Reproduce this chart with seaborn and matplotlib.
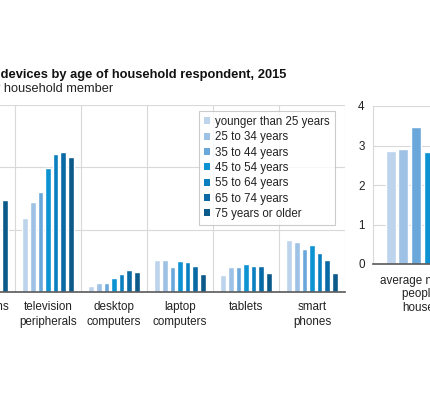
import matplotlib
matplotlib.use("Agg")
import matplotlib.pyplot as plt
import seaborn as sns
import pandas as pd
from matplotlib.patches import Patch

# categories and age groups
categories = ["televisions", "television\nperipherals", "desktop\ncomputers",
              "laptop\ncomputers", "tablets", "smart\nphones"]
age_groups = ["younger than 25 years", "25 to 34 years", "35 to 44 years",
              "45 to 54 years", "55 to 64 years", "65 to 74 years",
              "75 years or older"]

# devices per household member, one list per device type (by age group)
televisions = [0.95, 0.90, 0.80, 0.95, 1.20, 1.40, 1.47]
tv_peripherals = [1.18, 1.45, 1.61, 1.99, 2.21, 2.24, 2.17]
desktops = [0.10, 0.14, 0.14, 0.23, 0.29, 0.35, 0.32]
laptops = [0.52, 0.51, 0.40, 0.50, 0.48, 0.42, 0.29]
tablets = [0.28, 0.40, 0.40, 0.45, 0.41, 0.41, 0.31]
smartphones = [0.83, 0.80, 0.69, 0.75, 0.63, 0.52, 0.30]

# average number of people per household
household_size = [2.87, 2.90, 3.48, 2.83, 2.20, 1.85, 1.60]
household_label = "average number of\npeople per\nhousehold"

colors = ["#bdd4ec", "#9ec2e6", "#6aa7da", "#0d92d2", "#0a7fc0", "#0a6aa5", "#0b5a8a"]

# build long tables
rows = []
for cat, vals in zip(categories, [televisions, tv_peripherals, desktops,
                                  laptops, tablets, smartphones]):
    for age, v in zip(age_groups, vals):
        rows.append({"device": cat, "age": age, "value": v})
devices_df = pd.DataFrame(rows)

hh_df = pd.DataFrame({"device": [household_label] * len(age_groups),
                      "age": age_groups, "value": household_size})

sns.set_style("white")
plt.rcParams["font.family"] = ["Liberation Sans", "DejaVu Sans"]

W, H = 430, 400
fig = plt.figure(figsize=(4.3, 4.0), dpi=100)

grid_col = "#d9d9d9"
axis_col = "#595959"
text_col = "#222222"
lab_size = 8.4

# left panel: devices (its left part lies outside the cropped view)
cat_px = 66
right_px = 345
left_px = right_px - cat_px * len(categories)
ax1 = fig.add_axes([left_px / W, 1 - 292 / H, (right_px - left_px) / W, (292 - 105) / H])
sns.barplot(data=devices_df, x="device", y="value", hue="age",
            order=categories, hue_order=age_groups, palette=colors,
            width=0.8, gap=0.22, ax=ax1, legend=False, saturation=1)
ax1.set_ylim(0, 3)
ax1.set_yticks([0, 1, 2, 3])
ax1.set_xticks(range(len(categories)))
ax1.set_xticks([i + 0.5 for i in range(-1, len(categories))], minor=True)
ax1.set_xlim(-0.5, len(categories) - 0.5)
ax1.grid(axis="y", color=grid_col, linewidth=0.8)
ax1.grid(axis="x", which="minor", color=grid_col, linewidth=0.8)
ax1.grid(axis="x", which="major", visible=False)
ax1.set_axisbelow(True)
ax1.tick_params(axis="both", which="both", length=0, labelsize=lab_size,
                labelcolor=text_col)
ax1.tick_params(axis="x", pad=6.5)
for t in ax1.get_xticklabels():
    t.set_linespacing(1.3)
ax1.set_xlabel("")
ax1.set_ylabel("")
for s in ["left", "right", "top"]:
    ax1.spines[s].set_visible(False)
ax1.spines["bottom"].set_color(axis_col)
ax1.spines["bottom"].set_linewidth(1.2)

handles = [Patch(facecolor=c, edgecolor="none", label=a)
           for c, a in zip(colors, age_groups)]
leg = ax1.legend(handles=handles, loc="upper left",
                 bbox_to_anchor=(199 / W, 1 - 111 / H),
                 bbox_transform=fig.transFigure, frameon=True, fancybox=False,
                 fontsize=8.3, handlelength=0.55, handleheight=0.55,
                 handletextpad=0.45, labelspacing=0.29, borderpad=0.42,
                 borderaxespad=0, labelcolor=text_col)
leg.get_frame().set_edgecolor("#bfbfbf")
leg.get_frame().set_linewidth(0.8)

# right panel: household size
ax2 = fig.add_axes([373 / W, 1 - 264 / H, 112 / W, (264 - 106) / H])
sns.barplot(data=hh_df, x="device", y="value", hue="age",
            hue_order=age_groups, palette=colors, width=0.8, gap=0.23,
            ax=ax2, legend=False, saturation=1)
ax2.set_ylim(0, 4)
ax2.set_yticks([0, 1, 2, 3, 4])
ax2.set_xlim(-0.5, 0.5)
ax2.grid(axis="y", color=grid_col, linewidth=0.8)
ax2.set_axisbelow(True)
ax2.tick_params(axis="both", length=0, labelsize=lab_size, labelcolor=text_col)
ax2.tick_params(axis="y", pad=6)
ax2.tick_params(axis="x", pad=8)
for t in ax2.get_xticklabels():
    t.set_linespacing(1.15)
ax2.set_xlabel("")
ax2.set_ylabel("")
for s in ["right", "top"]:
    ax2.spines[s].set_visible(False)
ax2.spines["left"].set_color(grid_col)
ax2.spines["left"].set_linewidth(0.8)
ax2.spines["bottom"].set_color(axis_col)
ax2.spines["bottom"].set_linewidth(1.2)

# titles (left part falls outside the cropped view)
fig.text(286 / W, 1 - 75 / H,
         "Average number of devices by age of household respondent, 2015",
         ha="right", va="center", fontsize=9.3, fontweight="bold",
         color="#111111")
fig.text(113 / W, 1 - 89 / H, "devices per household member",
         ha="right", va="center", fontsize=9.2, color=text_col)

fig.savefig("out.png", dpi=100)
